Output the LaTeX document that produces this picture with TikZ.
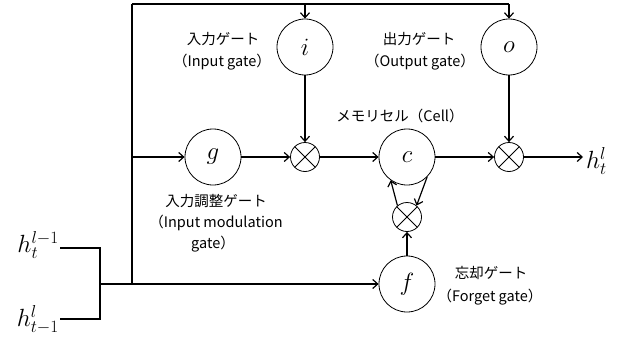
\documentclass[tikz,border=0pt]{standalone}
\usepackage{fontspec}
\newfontfamily\jp{Noto Sans CJK JP}
\usetikzlibrary{arrows.meta}
\begin{document}
\begin{tikzpicture}[x=1pt,y=-1pt,
  gate/.style={circle,draw,line width=0.8pt,minimum size=56pt,inner sep=0pt,font=\fontsize{25}{28}\selectfont},
  mul/.style={circle,draw,line width=0.8pt,minimum size=29pt,inner sep=0pt,
    path picture={\draw[line width=0.8pt] (path picture bounding box.north west)--(path picture bounding box.south east)
      (path picture bounding box.north east)--(path picture bounding box.south west);}},
  conn/.style={line width=1.2pt},
  thinconn/.style={line width=1.1pt},
  arr/.style={conn,-{Straight Barb[length=5pt,width=9pt]}},
  lbl/.style={font=\jp\fontsize{14.5}{17}\selectfont,inner sep=0pt},
  hlbl/.style={font=\fontsize{25}{28}\selectfont,inner sep=0pt}]
\useasboundingbox (0,0) rectangle (635,340);
% nodes
\node[gate] (i) at (305,47) {$i$};
\node[gate] (o) at (509,47) {$o$};
\node[gate] (g) at (213,157) {$g$};
\node[mul] (m1) at (305,157) {};
\node[gate] (c) at (407,157) {$c$};
\node[mul] (m2) at (509,157) {};
\node[mul] (m3) at (407,217) {};
\node[gate] (f) at (407,284) {$f$};
\node[hlbl,anchor=west] (hout) at (586,161) {$h_t^l$};
\node[hlbl,anchor=east] (hin1) at (59,245) {$h_t^{l-1}$};
\node[hlbl,anchor=east] (hin2) at (59,320) {$h_{t-1}^l$};
% labels
\node[lbl] (li1) at (223,39) {入力ゲート};
\node[lbl] (li2) at (222,62) {（Input gate）};
\node[lbl] (lo1) at (419,39) {出力ゲート};
\node[lbl] (lo2) at (420,62) {（Output gate）};
\node[lbl] (lc) at (400,116) {メモリセル（Cell）};
\node[lbl] (lg1) at (216,201) {入力調整ゲート};
\node[lbl] (lg2) at (216,223) {（Input modulation};
\node[lbl] (lg3) at (213,244) {gate）};
\node[lbl] (lf1) at (491,273) {忘却ゲート};
\node[lbl] (lf2) at (490,297) {（Forget gate）};
% coordinates
\coordinate (tl) at (132,4);
\coordinate (tr) at (509,4);
\coordinate (jb) at (132,284);
\coordinate (jl) at (100,284);
\coordinate (a1) at (60,248);
\coordinate (a2) at (100,248);
\coordinate (b1) at (60,319);
\coordinate (b2) at (100,319);
\coordinate (out) at (583,157);
% connectors
\draw[thinconn] (a1) -- (a2) -- (b2) -- (b1);
\draw[conn] (jl) -- (jb);
\draw[conn,line width=1.5pt] (jb) -- (tl);
\draw[conn] (tl) -- (tr);
\draw[arr] (i |- tl) -- (i.north);
\draw[arr] (tr) -- (o.north);
\draw[arr] (jb |- g) -- (g);
\draw[arr] (jb) -- (f);
\draw[arr] (i) -- (m1);
\draw[arr] (g) -- (m1);
\draw[arr] (m1) -- (c);
\draw[arr] (c) -- (m2);
\draw[arr] (o) -- (m2);
\draw[arr] (m2) -- (out);
\draw[arr] (f) -- (m3);
\draw[arr] (m3.130) -- (c.235);
\draw[arr] (c.-45) -- (m3.50);
\end{tikzpicture}
\end{document}
